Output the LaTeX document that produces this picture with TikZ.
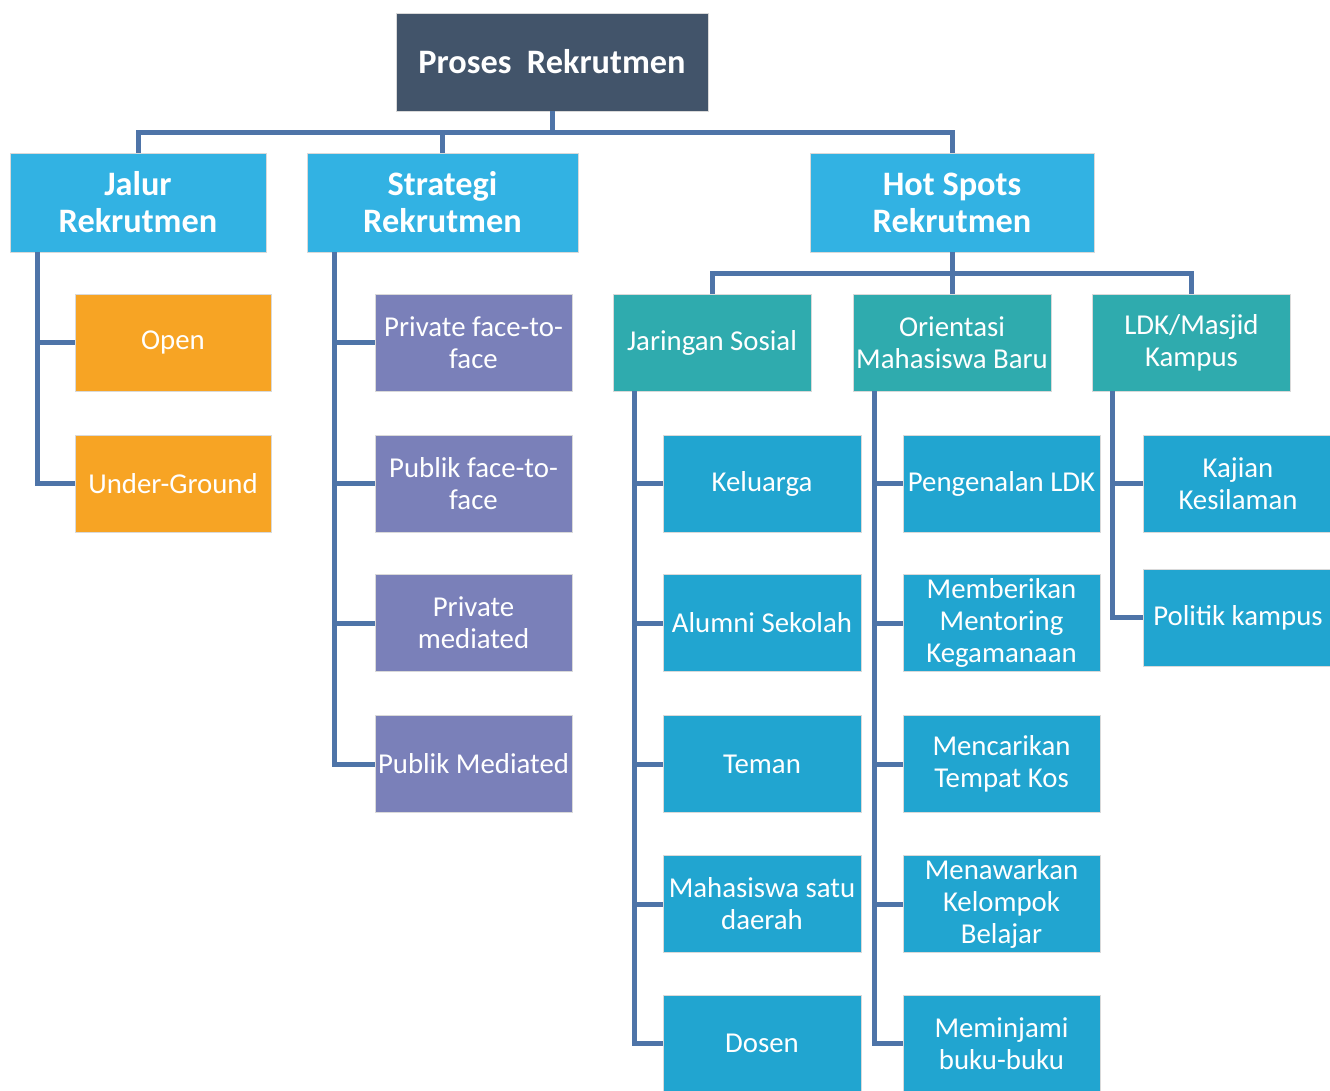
\documentclass[tikz,border=0pt]{standalone}
\usepackage{fontspec}
\setmainfont{Carlito}
\definecolor{rootc}{RGB}{66,84,106}
\definecolor{lvla}{RGB}{50,178,227}
\definecolor{orng}{RGB}{247,164,36}
\definecolor{purp}{RGB}{122,128,185}
\definecolor{teal2}{RGB}{47,171,174}
\definecolor{lvlc}{RGB}{33,165,208}
\definecolor{connc}{RGB}{78,116,168}
\newcommand{\fsreg}{\fontsize{28.8}{32}\selectfont}
\newcommand{\fsbold}{\fontsize{34.3}{37}\selectfont\bfseries}
\tikzset{
  boxbase/.style={inner sep=0pt, align=center, text=white, draw=white!85!black, line width=0.6pt},
  rootbox/.style={boxbase, fill=rootc, font=\fsbold, minimum width=312, minimum height=98},
  onebox/.style={boxbase, fill=lvla, font=\fsbold, minimum height=99},
  orbox/.style={boxbase, fill=orng, font=\fsreg, minimum width=196, minimum height=97},
  pubox/.style={boxbase, fill=purp, font=\fsreg, minimum width=197, minimum height=97},
  tlbox/.style={boxbase, fill=teal2, font=\fsreg, minimum width=198, minimum height=97},
  lcbox/.style={boxbase, fill=lvlc, font=\fsreg, minimum width=198, minimum height=97},
  conn/.style={draw=connc, line width=5pt}
}
\begin{document}
\begin{tikzpicture}[x=1pt,y=-1pt]
\path[use as bounding box] (0,0) rectangle (1330,1090);
% root
\node[rootbox] (root) at (552,62) {Proses~~Rekrutmen};
% level 1
\node[onebox, minimum width=256] (jalur) at (138,202.5) {Jalur\\Rekrutmen};
\node[onebox, minimum width=271] (strat) at (442.5,202.5) {Strategi\\Rekrutmen};
\node[onebox, minimum width=284] (hot) at (952,202.5) {Hot Spots\\Rekrutmen};
% jalur children
\node[orbox] (open) at (173,342.5) {Open};
\node[orbox] (ug) at (173,483.5) {Under-Ground};
% strategi children
\node[pubox] (s1) at (473.5,342.5) {Private face-to-\\face};
\node[pubox] (s2) at (473.5,483.5) {Publik face-to-\\face};
\node[pubox] (s3) at (473.5,623) {Private\\mediated};
\node[pubox] (s4) at (473.5,764) {Publik Mediated};
% level 2 teal
\node[tlbox] (jar) at (712,342.5) {Jaringan Sosial};
\node[tlbox] (ori) at (952,342.5) {Orientasi\\Mahasiswa Baru};
\node[tlbox] (ldk) at (1191.5,342.5) {LDK/Masjid\\Kampus};
% column 1
\node[lcbox] (j1) at (762,483.5) {Keluarga};
\node[lcbox] (j2) at (762,623) {Alumni Sekolah};
\node[lcbox] (j3) at (762,764) {Teman};
\node[lcbox] (j4) at (762,904) {Mahasiswa satu\\daerah};
\node[lcbox] (j5) at (762,1043.5) {Dosen};
% column 2
\node[lcbox, minimum width=197] (o1) at (1001.5,483.5) {Pengenalan LDK};
\node[lcbox, minimum width=197] (o2) at (1001.5,623) {Memberikan\\Mentoring\\Kegamanaan};
\node[lcbox, minimum width=197] (o3) at (1001.5,764) {Mencarikan\\Tempat Kos};
\node[lcbox, minimum width=197] (o4) at (1001.5,904) {Menawarkan\\Kelompok\\Belajar};
\node[lcbox, minimum width=197] (o5) at (1001.5,1043.5) {Meminjami\\buku-buku};
% column 3
\node[lcbox, minimum width=190] (l1) at (1238,483.5) {Kajian\\Kesilaman};
\node[lcbox, minimum width=190] (l2) at (1238,617.5) {Politik kampus};
% connectors: top bus
\coordinate (busA) at (0,132);
\draw[conn] (jalur.north) -- (jalur.north |- busA) -- (hot.north |- busA) -- (hot.north);
\draw[conn] (root.south) -- (root.south |- busA);
\draw[conn] (strat.north) -- (strat.north |- busA);
% hot spots bus
\coordinate (busB) at (0,273);
\draw[conn] (jar.north) -- (jar.north |- busB) -- (ldk.north |- busB) -- (ldk.north);
\draw[conn] (hot.south) -- (hot.south |- busB);
\draw[conn] (ori.north) -- (ori.north |- busB);
% jalur branch
\coordinate (vJ) at (37,0);
\draw[conn] (jalur.south -| vJ) |- (ug.west);
\draw[conn] (open.west) -- (open.west -| vJ);
% strategi branch
\coordinate (vS) at (334,0);
\draw[conn] (strat.south -| vS) |- (s4.west);
\foreach \n in {s1,s2,s3} \draw[conn] (\n.west) -- (\n.west -| vS);
% jaringan branch
\coordinate (vA) at (634,0);
\draw[conn] (jar.south -| vA) |- (j5.west);
\foreach \n in {j1,j2,j3,j4} \draw[conn] (\n.west) -- (\n.west -| vA);
% orientasi branch
\coordinate (vB) at (874,0);
\draw[conn] (ori.south -| vB) |- (o5.west);
\foreach \n in {o1,o2,o3,o4} \draw[conn] (\n.west) -- (\n.west -| vB);
% ldk branch
\coordinate (vC) at (1112,0);
\draw[conn] (ldk.south -| vC) |- (l2.west);
\draw[conn] (l1.west) -- (l1.west -| vC);
\end{tikzpicture}
\end{document}
